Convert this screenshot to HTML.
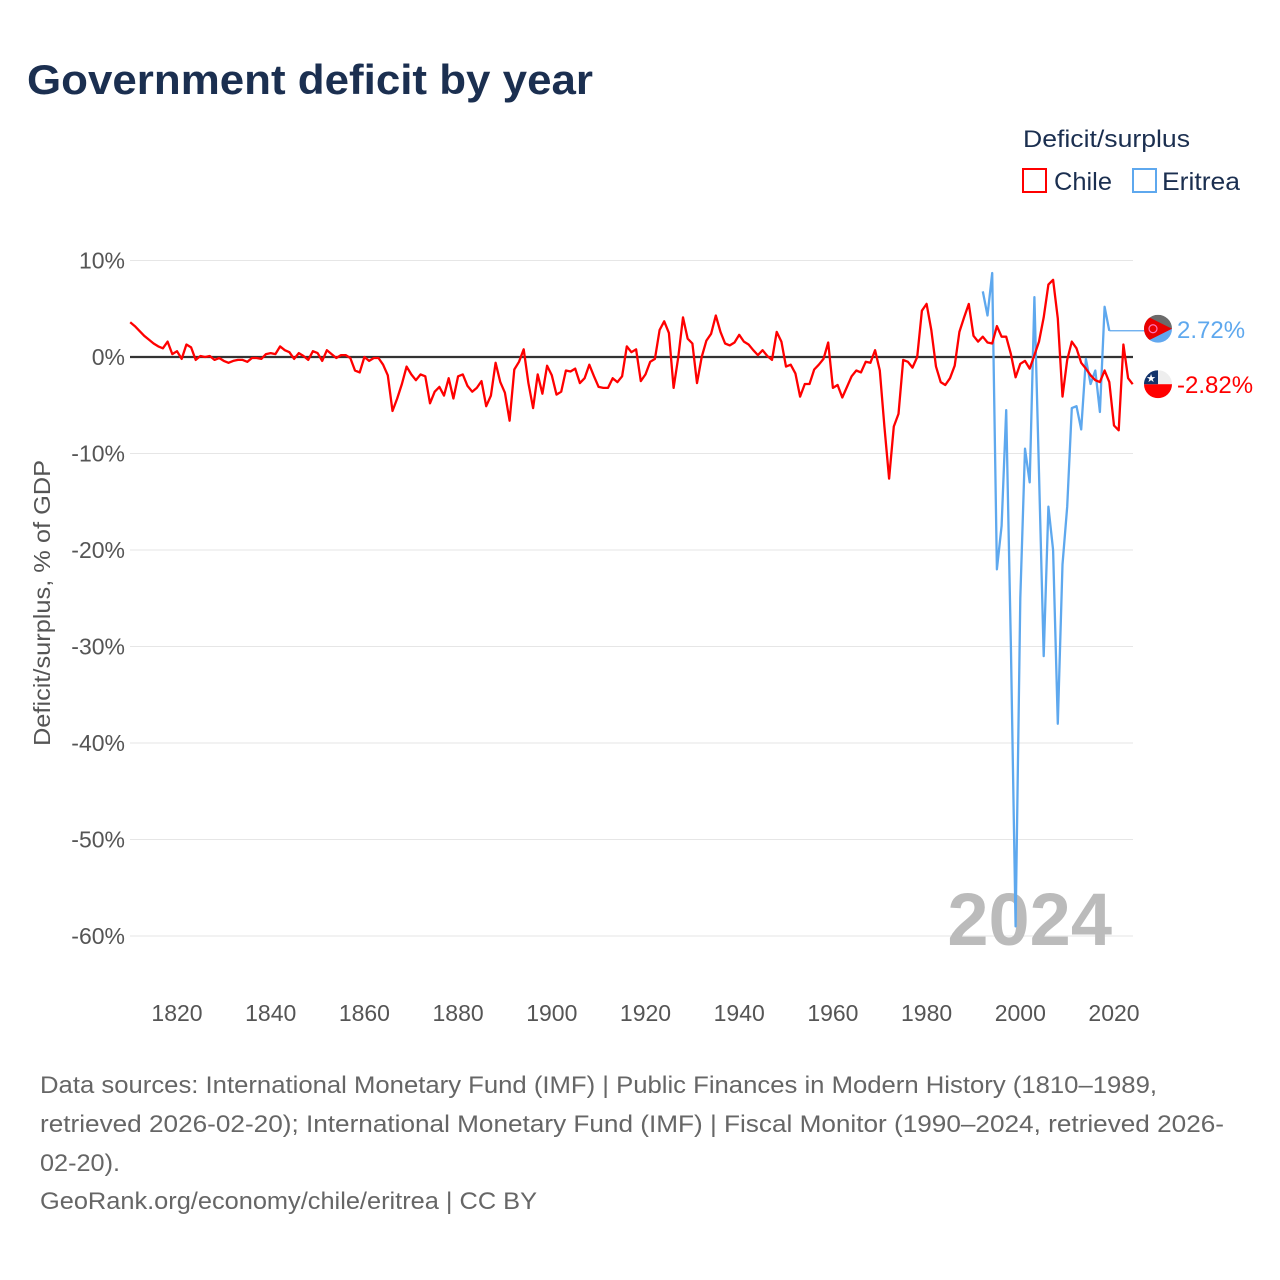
<!DOCTYPE html>
<html><head><meta charset="utf-8"><style>
html,body{margin:0;padding:0;background:#fff;}
svg{display:block;font-family:"Liberation Sans",sans-serif;}
</style></head><body>
<svg id="chart" width="1280" height="1280" viewBox="0 0 1280 1280">
<text x="27" y="94" font-size="42" font-weight="bold" fill="#1b2f50" textLength="566" lengthAdjust="spacingAndGlyphs">Government deficit by year</text>
<g>
<text x="1023" y="147" font-size="24" fill="#1b2f50" textLength="167" lengthAdjust="spacingAndGlyphs">Deficit/surplus</text>
<g><rect x="1023" y="169" width="23" height="23" fill="none" stroke="#ff0000" stroke-width="2"/><text x="1054" y="190" font-size="25" fill="#1b2f50" textLength="58" lengthAdjust="spacingAndGlyphs">Chile</text></g>
<g><rect x="1133" y="169" width="23" height="23" fill="none" stroke="#5ea8ee" stroke-width="2"/><text x="1162" y="190" font-size="25" fill="#1b2f50" textLength="78" lengthAdjust="spacingAndGlyphs">Eritrea</text></g>
</g>
<g id="grid"></g>
<g id="yticks"></g>
<g id="xticks"></g>
<text transform="translate(50,603) rotate(-90)" text-anchor="middle" font-size="23" fill="#555" textLength="286" lengthAdjust="spacingAndGlyphs">Deficit/surplus, % of GDP</text>
<text x="1112" y="945" text-anchor="end" font-size="74" font-weight="bold" fill="#bbbbbb">2024</text>
<g id="series"></g>
<g id="labels"></g>
<g font-size="24" fill="#666">
<text x="40" y="1093" textLength="1117" lengthAdjust="spacingAndGlyphs">Data sources: International Monetary Fund (IMF) | Public Finances in Modern History (1810–1989,</text>
<text x="40" y="1132" textLength="1184" lengthAdjust="spacingAndGlyphs">retrieved 2026-02-20); International Monetary Fund (IMF) | Fiscal Monitor (1990–2024, retrieved 2026-</text>
<text x="40" y="1171" textLength="80" lengthAdjust="spacingAndGlyphs">02-20).</text>
<text x="40" y="1209" textLength="497" lengthAdjust="spacingAndGlyphs">GeoRank.org/economy/chile/eritrea | CC BY</text>
</g>
</svg>
<script>
const chileStart = 1810;
const chileValues = [3.6,3.2,2.7,2.2,1.8,1.4,1.1,0.9,1.6,0.3,0.6,-0.2,1.3,1.0,-0.3,0.1,0.0,0.1,-0.3,-0.1,-0.4,-0.6,-0.4,-0.3,-0.3,-0.5,-0.1,-0.1,-0.2,0.3,0.4,0.3,1.1,0.7,0.5,-0.2,0.4,0.1,-0.3,0.6,0.4,-0.4,0.7,0.3,-0.1,0.2,0.2,-0.1,-1.4,-1.6,0.0,-0.4,-0.1,-0.1,-0.8,-1.9,-5.6,-4.3,-2.8,-1.0,-1.8,-2.4,-1.8,-2.0,-4.8,-3.6,-3.1,-4.0,-2.2,-4.3,-2.0,-1.8,-3.0,-3.6,-3.2,-2.5,-5.1,-4.0,-0.6,-2.6,-3.7,-6.6,-1.3,-0.5,0.8,-2.7,-5.3,-1.8,-3.8,-0.9,-1.9,-3.9,-3.6,-1.4,-1.5,-1.2,-2.7,-2.2,-0.8,-2.0,-3.1,-3.2,-3.2,-2.2,-2.6,-2.0,1.1,0.5,0.8,-2.5,-1.8,-0.5,-0.2,2.8,3.7,2.5,-3.2,0.0,4.1,1.9,1.4,-2.7,0.0,1.7,2.4,4.3,2.6,1.4,1.2,1.5,2.3,1.6,1.3,0.7,0.2,0.7,0.1,-0.3,2.6,1.6,-1.0,-0.8,-1.7,-4.1,-2.8,-2.8,-1.3,-0.8,-0.2,1.5,-3.2,-2.9,-4.2,-3.1,-2.0,-1.4,-1.6,-0.5,-0.6,0.7,-1.4,-7.2,-12.6,-7.2,-5.9,-0.3,-0.5,-1.1,0.0,4.8,5.5,2.8,-1.0,-2.6,-2.9,-2.2,-0.9,2.6,4.1,5.5,2.2,1.6,2.1,1.5,1.4,3.2,2.1,2.1,0.3,-2.1,-0.7,-0.4,-1.2,0.2,1.6,4.1,7.5,8.0,4.0,-4.1,-0.3,1.6,0.9,-0.6,-1.2,-1.9,-2.4,-2.6,-1.4,-2.6,-7.1,-7.6,1.3,-2.2,-2.82];
const eritreaStart = 1992;
const eritreaValues = [6.8,4.3,8.7,-22,-17.5,-5.5,-30,-59,-25,-9.5,-13,6.2,-12,-31,-15.5,-20,-38,-21.5,-15.5,-5.3,-5.1,-7.5,-0.2,-2.8,-1.4,-5.7,5.2,2.72];
const yTicks = [10,0,-10,-20,-30,-40,-50,-60];
const xTicks = [1820,1840,1860,1880,1900,1920,1940,1960,1980,2000,2020];
const labelValues = {chile:"-2.82%", eritrea:"2.72%"};

const NS="http://www.w3.org/2000/svg";
const X0=130,X1=1133;
function xs(yr){return 177+(yr-1820)*(1114-177)/200;}
function ys(v){return 357-v*(936-357)/60;}
function mk(tag,attrs,parent){const e=document.createElementNS(NS,tag);for(const k in attrs)e.setAttribute(k,attrs[k]);parent.appendChild(e);return e;}
const grid=document.getElementById('grid'),yt=document.getElementById('yticks'),xt=document.getElementById('xticks');
yTicks.forEach(v=>{
  const l=mk('line',{x1:X0,x2:X1,y1:ys(v),y2:ys(v),stroke:v===0?'#333':'#e6e6e6','stroke-width':v===0?2.2:1},grid);
  
  
  const t=mk('text',{x:125,y:ys(v)+8,'text-anchor':'end','font-size':23,fill:'#555'},yt);
  t.textContent=v+'%';
  
  
});
xTicks.forEach(yr=>{
  const t=mk('text',{x:xs(yr),y:1021,'text-anchor':'middle','font-size':23,fill:'#555'},xt);
  t.textContent=yr;
  
  
});
const ser=document.getElementById('series');
function line(start,vals,color,name){
  const pts=vals.map((v,i)=>xs(start+i).toFixed(1)+','+ys(v).toFixed(1)).join(' ');
  const p=mk('polyline',{points:pts,fill:'none',stroke:color,'stroke-width':2.3,'stroke-linejoin':'round'},ser);
  
  
}
line(eritreaStart,eritreaValues,'#5ea8ee','eritrea-line');
line(chileStart,chileValues,'#ff0000','chile-line');
const lab=document.getElementById('labels');
const ey=ys(eritreaValues[eritreaValues.length-1]);
const lastEx=xs(eritreaStart+eritreaValues.length-1);
const ld=mk('polyline',{points:`${lastEx},${ey} 1146,${ey} 1146,${ey-2}`,fill:'none',stroke:'#5ea8ee','stroke-width':1.3},lab);


const eg=mk('g',{},lab);


const cy1=ey-2;
const cp1=mk('clipPath',{id:'c1'},eg);mk('circle',{cx:1158,cy:cy1,r:14},cp1);
const eg2=mk('g',{'clip-path':'url(#c1)'},eg);
mk('rect',{x:1144,y:cy1-14,width:28,height:14,fill:'#6b6b6b'},eg2);
mk('rect',{x:1144,y:cy1,width:28,height:14,fill:'#62a8ef'},eg2);
mk('polygon',{points:`1144,${cy1-14} 1172,${cy1} 1144,${cy1+14}`,fill:'#ea0000'},eg2);
mk('circle',{cx:1153,cy:cy1,r:4,fill:'none',stroke:'#f7b','stroke-width':1.2},eg2);
const et=mk('text',{x:1177,y:cy1+9,'font-size':24,fill:'#5ea8ee'},lab);
et.textContent=labelValues.eritrea;


const cy2=ys(chileValues[chileValues.length-1]);
const cg=mk('g',{},lab);


const cp=mk('clipPath',{id:'c2'},cg);mk('circle',{cx:1158,cy:cy2,r:14},cp);
const cg2=mk('g',{'clip-path':'url(#c2)'},cg);
mk('rect',{x:1144,y:cy2-14,width:28,height:14,fill:'#eeeeee'},cg2);
mk('rect',{x:1144,y:cy2,width:28,height:14,fill:'#ff0000'},cg2);
mk('rect',{x:1144,y:cy2-14,width:14,height:14,fill:'#12336b'},cg2);
const st=mk('text',{x:1151,y:cy2-2,'font-size':11,fill:'#fff','text-anchor':'middle'},cg2);st.textContent='★';
const ct=mk('text',{x:1177,y:cy2+9,'font-size':24,fill:'#ff0000'},lab);
ct.textContent=labelValues.chile;


</script>
</body></html>
